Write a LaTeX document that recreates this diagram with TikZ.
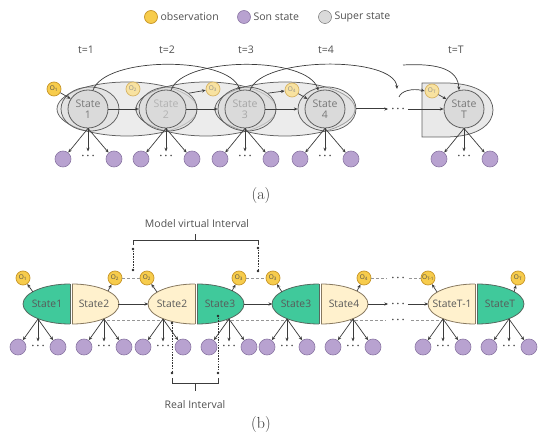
\documentclass[tikz,border=0pt]{standalone}
\usepackage{fontspec}
\newfontfamily\osans{Open Sans}
\usetikzlibrary{arrows.meta,shapes.geometric}
\definecolor{lc}{RGB}{60,60,60}
\definecolor{gfill}{RGB}{64,201,155}
\definecolor{gstk}{RGB}{85,105,95}
\definecolor{cfill}{RGB}{255,241,205}
\definecolor{cstk}{RGB}{135,120,95}
\definecolor{pfill}{RGB}{184,162,208}
\definecolor{pstk}{RGB}{140,120,165}
\definecolor{yfill}{RGB}{247,204,76}
\definecolor{ystk}{RGB}{200,150,40}
\definecolor{ypale}{RGB}{248,226,160}
\definecolor{ypstk}{RGB}{215,180,100}
\definecolor{sfill}{RGB}{218,218,218}
\definecolor{sstk}{RGB}{95,95,95}
\definecolor{stext}{RGB}{120,120,120}
\definecolor{dgray}{RGB}{150,150,150}
\definecolor{ltext}{RGB}{80,80,80}
\newcommand\halfcurveleft[3]{%
  \begin{scope}\clip (#1-50,280) rectangle (#1,328);
    \draw[fill=#2,draw=#3,line width=0.8pt] (#1,304) ellipse [x radius=47,y radius=20];
  \end{scope}
  \draw[#3,line width=0.8pt] (#1,284) -- (#1,324);}
\newcommand\halfcurveright[3]{%
  \begin{scope}\clip (#1,280) rectangle (#1+50,328);
    \draw[fill=#2,draw=#3,line width=0.8pt] (#1,304) ellipse [x radius=47,y radius=20];
  \end{scope}
  \draw[#3,line width=0.8pt] (#1,284) -- (#1,324);}
\begin{document}
\begin{tikzpicture}[x=1pt,y=-1pt,
  font=\osans\fontsize{10.5}{12}\selectfont, text=ltext,
  arr/.style={-{Stealth[length=3.8pt,width=3.2pt]}, draw=lc, line width=0.7pt},
  big/.style={ellipse, draw=sstk, fill=sfill, fill opacity=0.5, line width=0.75pt, minimum width=140, minimum height=54, inner sep=0},
  med/.style={ellipse, draw=sstk, fill=sfill, fill opacity=0.5, line width=0.75pt, minimum width=58, minimum height=44, inner sep=0},
  sst/.style={ellipse, draw=sstk, fill=sfill, line width=0.8pt, minimum width=40, minimum height=38, inner sep=0, align=center, text=stext, font=\osans\fontsize{10.5}{11}\selectfont},
  obs/.style={circle, draw=ystk, fill=yfill, line width=0.7pt, minimum size=14, inner sep=0, text=black!70, font=\osans\fontsize{6.5}{6.5}\selectfont},
  obsp/.style={obs, draw=ypstk, fill=ypale, text=black!45},
  son/.style={circle, draw=pstk, fill=pfill, line width=0.6pt, minimum size=16, inner sep=0},
  dots/.style={inner sep=0, text=black!80, font=\boldmath\fontsize{10}{10}\selectfont},
  hlab/.style={minimum width=47, minimum height=40, inner sep=0, text=black!65, font=\osans\fontsize{10.3}{11}\selectfont},
  dln/.style={draw=dgray, line width=0.8pt, dash pattern=on 3pt off 2pt},
  vdot/.style={draw=black!80, line width=0.7pt, dash pattern=on 1.5pt off 1.2pt},
  pt/.style={circle, fill=black!85, inner sep=0, minimum size=2.8}]
\useasboundingbox (0,0) rectangle (550,444);
% legend
\node[obs, minimum size=13] (lo) at (151,17) {};
\node[anchor=west] (lot) at (157,17) {observation};
\node[son, minimum size=13] (ls) at (244,17) {};
\node[anchor=west] (lst) at (250,17) {Son state};
\node[circle, draw=sstk, fill=sfill, minimum size=13, inner sep=0] (lg) at (325,17) {};
\node[anchor=west] (lgt) at (331,17) {Super state};
% time labels
\node[font=\osans\fontsize{10.5}{12}\selectfont] (t1) at (86,50) {t=1};
\node[font=\osans\fontsize{10.5}{12}\selectfont] (t2) at (167,50) {t=2};
\node[font=\osans\fontsize{10.5}{12}\selectfont] (t3) at (246,50) {t=3};
\node[font=\osans\fontsize{10.5}{12}\selectfont] (t4) at (326,50) {t=4};
\node[font=\osans\fontsize{10.5}{12}\selectfont] (tT) at (456,50) {t=T};
% super states
\node[big] (B1) at (127,109) {};
\node[big] (B2) at (206,109) {};
\node[big] (B3) at (285,109) {};
\node[med] (M1) at (90,109) {};
\node[med] (M2) at (168,109) {};
\node[med] (M3) at (247,109) {};
\node[med] (M4) at (327,109) {};
\draw[draw=sstk, fill=sfill, fill opacity=0.6, line width=0.75pt] (422,83) -- (445,83) .. controls (480,83) and (493,97) .. (493,110) .. controls (493,123) and (480,137) .. (445,137) -- (422,137) -- cycle;
\node[sst] (A1) at (88,109) {State\\1};
\node[sst, text=black!30] (A2) at (166,109) {State\\2};
\node[sst, text=black!35] (A3) at (245,109) {State\\3};
\node[sst] (A4) at (325,109) {State\\4};
\node[sst] (AT) at (464,109) {State\\T};
% observations
\node[obs] (O1) at (54,89) {O\textsubscript{1}};
\node[obsp] (O2) at (133,89) {O\textsubscript{2}};
\node[obsp] (O3) at (213,89) {O\textsubscript{3}};
\node[obsp] (O4) at (292,90) {O\textsubscript{4}};
\node[obsp] (OT) at (432,91) {O\textsubscript{T}};
\node[dots] (dA) at (398,109) {$\cdots$};
% connectors top
\draw[arr] (O1) -- (A1);
\draw[arr] (O4) -- (A4);
\draw[arr] (OT) -- (AT);
\draw[arr] (M2.north east) -- (O3);
\draw[arr] (M3.north east) -- (O4);
\draw[arr] (A1.east) -- (M2.west);
\draw[arr] (A2.east) -- (M3.west);
\draw[arr] (A3.east) -- (M4.west);
\draw[arr, line width=1pt] (M4.east) -- ([xshift=-3pt]dA.west);
\draw[arr] ([xshift=3pt]dA.east) -- (AT.west);
\coordinate (e3) at (397,89);
\coordinate (s4) at (403,65);
\coordinate (s5) at (399,97);
\draw[arr] (A1.75) .. controls (105,56) and (228,56) .. (A3.105);
\draw[arr] (A2.75) .. controls (183,56) and (308,56) .. (A4.110);
\draw[arr] (A3.75) .. controls (262,56) and (395,56) .. (e3);
\draw[arr] (s4) .. controls (440,63) and (458,70) .. (AT.105);
\draw[arr] (s5) .. controls (401,91) and (412,88) .. (OT.west);
% top children
\foreach \n/\x in {1/88,2/166,3/245,4/325,T/464}{
  \node[son] (L\n) at (\x-25,159) {};
  \node[son] (R\n) at (\x+26,159) {};
  \node[dots] (D\n) at (\x,156) {$\cdots$};
  \draw[arr] (A\n.south) -- (L\n);
  \draw[arr] (A\n.south) -- (R\n);
  \draw[arr, shorten >=2pt] (A\n.south) -- (D\n.north);
}
\node[font=\fontsize{16}{17}\selectfont, text=black!80] (capa) at (261,196) {(a)};
% ---------- panel (b) ----------
\draw[dln] (102,320) -- (167,320);
\draw[dln] (226,320) -- (291,320);
\draw[dln] (350,320) -- (386,320);
\draw[dln] (411,320) -- (447,320);
\node[dots] (dd3) at (398,320) {$\cdots$};
\halfcurveleft{70}{gfill}{gstk}
\halfcurveright{72}{cfill}{cstk}
\halfcurveleft{195}{cfill}{cstk}
\halfcurveright{197}{gfill}{gstk}
\halfcurveleft{319}{gfill}{gstk}
\halfcurveright{321}{cfill}{cstk}
\halfcurveleft{475}{cfill}{cstk}
\halfcurveright{477}{gfill}{gstk}
\node[hlab] (g1) at (47,304) {State1};
\node[hlab] (c2) at (94,304) {State2};
\node[hlab] (c2p) at (172,304) {State2};
\node[hlab] (g3) at (220,304) {State3};
\node[hlab] (g3p) at (296,304) {State3};
\node[hlab] (c4) at (344,304) {State4};
\node[hlab] (cT1) at (452,304) {StateT-1};
\node[hlab] (gT) at (500,304) {StateT};
\node[dots] (dd1) at (398,304) {$\cdots$};
\draw[arr] (c2.east) -- (c2p.west);
\draw[arr] (g3.east) -- (g3p.west);
\draw[arr] (c4.east) -- ([xshift=-3pt]dd1.west);
\draw[arr] ([xshift=3pt]dd1.east) -- (cT1.west);
% observations (b)
\node[obs] (P1) at (23,278) {O\textsubscript{1}};
\node[obs] (P2) at (115,278) {O\textsubscript{2}};
\node[obs] (P2p) at (147,278) {O\textsubscript{2}};
\node[obs] (P3) at (239,278) {O\textsubscript{3}};
\node[obs] (P3p) at (273,278) {O\textsubscript{3}};
\node[obs] (P4) at (364,278) {O\textsubscript{4}};
\node[obs] (PT1) at (428,278) {O\textsubscript{T-1}};
\node[obs] (PT) at (518,278) {O\textsubscript{T}};
\node[dots] (dd2) at (398,278) {$\cdots$};
\foreach \c/\x/\y/\o in {a/33/292/P1, b/108/291/P2, c/157/292/P2p, d/232/291/P3, e/282/292/P3p, f/357/291/P4, g/437/292/PT1, h/514/292/PT}{
  \coordinate (ot\c) at (\x,\y);
  \draw[arr] (ot\c) -- (\o);
}
\draw[dln] (P2) -- (P2p);
\draw[dln] (P3) -- (P3p);
\draw[dln] (P4) -- ([xshift=-4pt]dd2.west);
\draw[dln] ([xshift=4pt]dd2.east) -- (PT1);
% children (b)
\foreach \c/\x in {a/38,b/104,c/163,d/229,e/287,f/353,g/443,h/509}{
  \coordinate (f\c) at (\x,319);
  \node[son] (la\c) at (\x-20,347) {};
  \node[son] (ra\c) at (\x+20,347) {};
  \node[dots] (da\c) at (\x,346) {$\cdots$};
  \draw[arr] (f\c) -- (la\c);
  \draw[arr] (f\c) -- (ra\c);
  \draw[arr, shorten >=2pt] (f\c) -- (da\c.north);
}
% model virtual interval
\node[pt] (mv1) at (133,249) {};
\node[pt] (mv2) at (133,270) {};
\node[pt] (mv3) at (258,248) {};
\node[pt] (mv4) at (258,271) {};
\draw[vdot] (mv1) -- (mv2);
\draw[vdot] (mv3) -- (mv4);
\draw[lc, line width=0.75pt] (133,245) -- (133,240) -- (258,240) -- (258,245);
\draw[lc, line width=0.75pt] (195.5,240) -- (195.5,234);
\node (mvt) at (197,224) {Model virtual Interval};
% real interval
\node[pt] (ri1) at (172,323) {};
\node[pt] (ri2) at (172,373) {};
\node[pt] (ri3) at (218,316) {};
\node[pt] (ri4) at (218,373) {};
\draw[vdot] (ri1) -- (ri2);
\draw[vdot] (ri3) -- (ri4);
\draw[lc, line width=0.75pt] (172,378) -- (172,383) -- (218,383) -- (218,378);
\draw[lc, line width=0.75pt] (195,383) -- (195,391);
\node (rit) at (195,405) {Real Interval};
\node[font=\fontsize{16}{17}\selectfont, text=black!80] (capb) at (261,425) {(b)};
\end{tikzpicture}
\end{document}
